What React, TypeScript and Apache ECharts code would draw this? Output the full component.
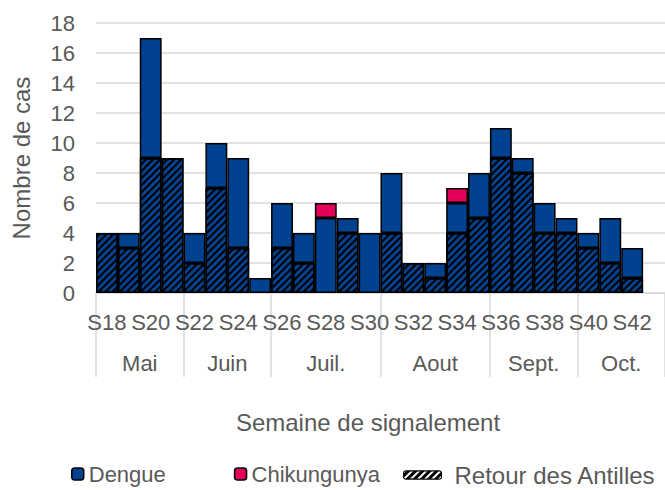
import React, { useEffect, useRef } from "react";
import * as echarts from "echarts";

const weeks = [
  "S18", "S19", "S20", "S21", "S22", "S23", "S24", "S25", "S26", "S27", "S28", "S29", "S30",
  "S31", "S32", "S33", "S34", "S35", "S36", "S37", "S38", "S39", "S40", "S41", "S42", "S43",
];
// Dengue cases returning from the Antilles (hatched part)
const retourAntilles = [4, 3, 9, 9, 2, 7, 3, 0, 3, 2, 0, 4, 0, 4, 2, 1, 4, 5, 9, 8, 4, 4, 3, 2, 1, 0];
// Other dengue cases (plain blue part)
const dengue = [0, 1, 8, 0, 2, 3, 6, 1, 3, 2, 5, 1, 4, 4, 0, 1, 2, 3, 2, 1, 2, 1, 1, 3, 2, 0];
const chikungunya = [0, 0, 0, 0, 0, 0, 0, 0, 0, 0, 1, 0, 0, 0, 0, 0, 1, 0, 0, 0, 0, 0, 0, 0, 0, 0];

const monthNames = ["Mai", "Juin", "Juil.", "Aout", "Sept.", "Oct."];
const monthWeekCounts = [4, 4, 5, 5, 4, 4];

const yTicks = { min: 0, max: 18, interval: 2 };

const FONT = "'Liberation Sans', Arial, sans-serif";
const TXT = "#595959";
const GRIDC = "#d9d9d9";
const BLUE = "#00428f";
const RED = "#e2005a";

export default function App() {
  const ref = useRef<HTMLDivElement>(null);
  useEffect(() => {
    if (!ref.current) return;
    const chart = echarts.init(ref.current, undefined, { renderer: "svg" });

    const bounds: number[] = [0];
    monthWeekCounts.forEach((c) => bounds.push(bounds[bounds.length - 1] + c));
    const centers = monthNames.map((_, i) => (bounds[i] + bounds[i + 1]) / 2);

    const nz = (arr: number[]) => arr.map((v) => (v === 0 ? "-" : v));
    const border = { borderColor: "#000", borderWidth: 1.5 };
    const hatch = {
      symbol: "rect",
      symbolSize: 1,
      dashArrayX: [1, 0],
      dashArrayY: [2, 2.2],
      rotation: -Math.PI / 4,
      color: "#000",
    };

    chart.setOption({
      animation: false,
      textStyle: { fontFamily: FONT },
      grid: { left: 96, top: 23, right: -3, bottom: 197, containLabel: false },
      legend: [
        {
          left: 66,
          top: 458,
          itemWidth: 12,
          itemHeight: 12,
          itemGap: 68,
          data: ["Dengue", "Chikungunya"],
          textStyle: { fontSize: 22, color: TXT, fontFamily: FONT },
          itemStyle: { borderColor: "#000", borderWidth: 1.5 },
        },
        {
          left: 398,
          top: 458,
          itemWidth: 38,
          itemHeight: 8,
          data: [
            {
              name: "Retour des Antilles",
              itemStyle: { color: "#000", borderColor: "#000", borderWidth: 1, decal: { ...hatch, color: "#fff" } },
            },
          ],
          textStyle: { fontSize: 24, color: TXT, fontFamily: FONT, padding: [0, 0, 0, 8] },
        },
      ],
      xAxis: [
        {
          type: "category",
          data: weeks,
          axisTick: { show: false },
          axisLine: { lineStyle: { color: GRIDC, width: 1.5 } },
          axisLabel: { interval: 1, fontSize: 22, color: TXT, margin: 18, fontFamily: FONT },
          name: "Semaine de signalement",
          nameLocation: "middle",
          nameGap: 117,
          nameTextStyle: { fontSize: 24, color: TXT, fontFamily: FONT, padding: [0, 25, 0, 0] },
        },
        {
          type: "value",
          position: "bottom",
          min: 0,
          max: weeks.length,
          axisLine: { show: false },
          splitLine: { show: false },
          axisTick: {
            show: true,
            customValues: bounds,
            length: 84,
            lineStyle: { color: GRIDC, width: 1.5 },
          },
          axisLabel: {
            customValues: centers,
            formatter: (v: number) => {
              const i = centers.findIndex((c) => Math.abs(c - v) < 1e-6);
              return i >= 0 ? monthNames[i] : "";
            },
            fontSize: 22,
            color: TXT,
            margin: 59,
            fontFamily: FONT,
          },
        },
      ],
      yAxis: {
        type: "value",
        min: yTicks.min,
        max: yTicks.max,
        interval: yTicks.interval,
        axisLine: { show: false },
        axisTick: { show: false },
        splitLine: { lineStyle: { color: GRIDC, width: 1.5 } },
        axisLabel: { fontSize: 22, color: TXT, margin: 21, fontFamily: FONT },
        name: "Nombre de cas",
        nameLocation: "middle",
        nameGap: 63,
        nameTextStyle: { fontSize: 24, color: TXT, fontFamily: FONT },
      },
      series: [
        {
          name: "Retour des Antilles",
          type: "bar",
          stack: "a",
          xAxisIndex: 0,
          barCategoryGap: "0%",
          data: nz(retourAntilles),
          itemStyle: { color: BLUE, ...border, decal: hatch },
        },
        {
          name: "Dengue",
          type: "bar",
          stack: "a",
          xAxisIndex: 0,
          barCategoryGap: "0%",
          data: nz(dengue),
          itemStyle: { color: BLUE, ...border },
        },
        {
          name: "Chikungunya",
          type: "bar",
          stack: "a",
          xAxisIndex: 0,
          barCategoryGap: "0%",
          data: nz(chikungunya),
          itemStyle: { color: RED, ...border },
        },
      ],
    });
    return () => chart.dispose();
  }, []);
  return (
    <div
      ref={ref}
      style={{ position: "fixed", left: 0, top: 0, width: 665, height: 490, background: "#fff" }}
    />
  );
}
